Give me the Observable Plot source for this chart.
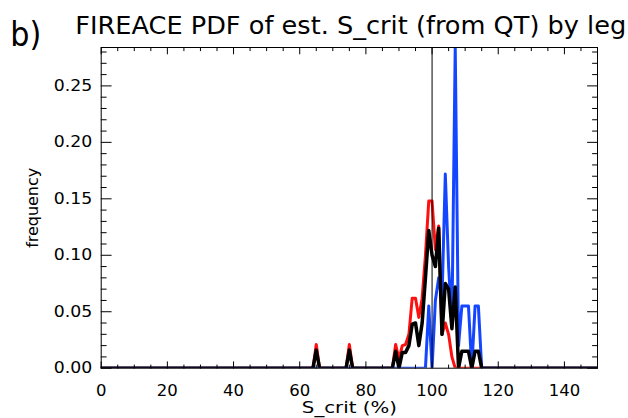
<!DOCTYPE html>
<html><head><meta charset="utf-8">
<script src="https://cdn.jsdelivr.net/npm/d3@7"></script>
<script src="https://cdn.jsdelivr.net/npm/@observablehq/plot@0.6"></script>
<style>body{margin:0;background:#fff}</style>
</head><body><div id="chart"></div>
<script>
// S_crit bins (%) and PDF values per leg
const sCrit = [0, 64, 65, 66, 74, 75, 76, 88, 89, 90, 91, 92, 93, 94, 95, 96, 97, 98, 99, 100, 101, 102, 103, 104, 105, 106, 107, 108, 109, 110, 111, 112, 113, 114, 115, 150];
const legRed   = [0, 0, .021, 0, 0, .021, 0, 0, .021, .008, .020, .021, .030, .062, .062, .045, .062, .100, .148, .148, .105, .126, .030, .040, .030, .010, 0, 0, 0, 0, 0, 0, 0, 0, 0, 0];
const legBlue  = [0, 0, 0, 0, 0, 0, 0, 0, 0, 0, 0, 0, 0, 0, 0, 0, 0, 0, .055, 0, .060, .080, .060, .172, .090, .040, .285, .020, .055, .055, .055, 0, .055, .055, 0, 0];
const legBlack = [0, 0, .016, 0, 0, .016, 0, 0, .015, 0, .014, .014, .020, .039, .040, .020, .040, .080, .122, .100, .090, .124, .030, .075, .070, .035, .072, 0, .015, .015, .015, 0, .015, .015, 0, 0];
const xMajor = [0, 20, 40, 60, 80, 100, 120, 140];
const xMinor = [5, 10, 15, 25, 30, 35, 45, 50, 55, 65, 70, 75, 85, 90, 95, 105, 110, 115, 125, 130, 135, 145];
const yMajor = [0, 0.05, 0.10, 0.15, 0.20, 0.25];
const yMinor = [0.01, 0.02, 0.03, 0.04, 0.06, 0.07, 0.08, 0.09, 0.11, 0.12, 0.13, 0.14, 0.16, 0.17, 0.18, 0.19, 0.21, 0.22, 0.23, 0.24, 0.26, 0.27, 0.28];
const refLine = [100];
const titleText = "FIREACE PDF of est. S_crit (from QT) by leg";
const panelText = "b)";
const xLabel = "S_crit (%)";
const yLabel = "frequency";

const rows = (vals, leg) => sCrit.map((s, i) => ({s, f: vals[i], leg}));
const tickShape = {draw(ctx, l) { ctx.moveTo(0, 0); ctx.lineTo(0, -l); }};
const ticks = (vals, k, anchor, rot, len) => Plot.vector(vals, {[k]: d => d, frameAnchor: anchor, rotate: rot, length: len, anchor: "start", shape: tickShape, stroke: "black", strokeWidth: 1});

const chart = Plot.plot({
  width: 628, height: 418,
  marginLeft: 100.7, marginRight: 31, marginTop: 47, marginBottom: 50.3,
  x: {domain: [0, 150]},
  y: {domain: [0, 0.284]},
  style: {fontFamily: "DejaVu Sans, sans-serif", fontSize: "15px", color: "black", background: "white"},
  marks: [
    Plot.line(rows(legRed, "red"), {x: "s", y: "f", stroke: "#ff1010", strokeWidth: 3, clip: true}),
    Plot.line(rows(legBlue, "blue"), {x: "s", y: "f", stroke: "#1446ff", strokeWidth: 3, clip: true}),
    Plot.line(rows(legBlack, "black"), {x: "s", y: "f", stroke: "black", strokeWidth: 3.5, clip: true}),
    Plot.ruleX(refLine, {stroke: "black", strokeWidth: 1}),
    Plot.frame({stroke: "black", strokeWidth: 1}),
    ticks(xMajor, "x", "bottom", 0, 6.4), ticks(xMinor, "x", "bottom", 0, 3.2),
    ticks(xMajor, "x", "top", 180, 6.4), ticks(xMinor, "x", "top", 180, 3.2),
    ticks(yMajor, "y", "left", 90, 10), ticks(yMinor, "y", "left", 90, 5),
    ticks(yMajor, "y", "right", -90, 10), ticks(yMinor, "y", "right", -90, 5),
    Plot.axisX({ticks: xMajor, tickSize: 0, tickPadding: 17, tickFormat: d3.format("d"), label: null, fontSize: 15}),
    Plot.axisY({ticks: yMajor, tickSize: 0, tickPadding: 9, tickFormat: d3.format(".2f"), label: null, fontSize: 15}),
    Plot.text([xLabel], {text: d => d, frameAnchor: "bottom", lineAnchor: "middle", textAnchor: "middle", dy: 39.5, fontSize: 15}),
    Plot.text([yLabel], {text: d => d, frameAnchor: "left", lineAnchor: "middle", textAnchor: "middle", dx: -68, rotate: -90, fontSize: 16}),
    Plot.text([panelText], {text: d => d, frameAnchor: "top-left", lineAnchor: "middle", dx: -91, dy: -12, fontSize: 34, textAnchor: "start"}),
    Plot.text([titleText], {text: d => d, frameAnchor: "top-left", lineAnchor: "middle", dx: -26, dy: -20.7, fontSize: 24, textAnchor: "start"})
  ]
});
const svg = d3.select(chart);
const fit = (content, len) => svg.selectAll("text").filter(function() { return this.textContent === content; })
  .attr("textLength", len).attr("lengthAdjust", "spacingAndGlyphs");
const charW = c => (c === "." ? 7 : 10.5);
svg.selectAll('[aria-label="x-axis tick label"] text, [aria-label="y-axis tick label"] text').each(function() {
  const t = this.textContent;
  d3.select(this).attr("textLength", d3.sum(Array.from(t), charW)).attr("lengthAdjust", "spacingAndGlyphs");
});
fit(xLabel, 95);
fit(yLabel, 80);
fit(panelText, 31);
fit(titleText, 551);
document.getElementById("chart").appendChild(chart);
</script></body></html>
